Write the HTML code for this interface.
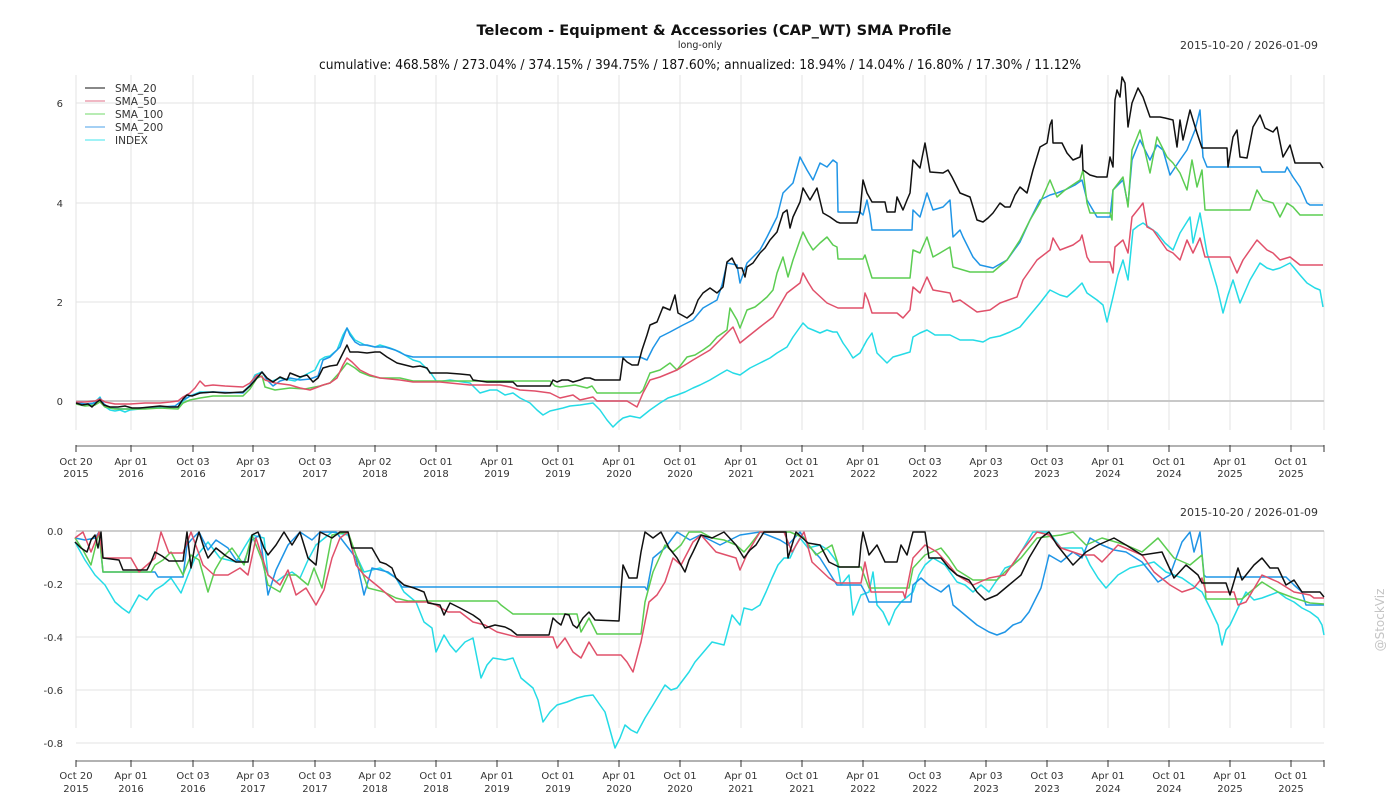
<!DOCTYPE html>
<html><head><meta charset="utf-8"><style>
html,body{margin:0;padding:0;background:#fff;}
svg{display:block;font-family:"DejaVu Sans","Liberation Sans",sans-serif;}
</style></head><body>
<svg width="1400" height="800" viewBox="0 0 1400 800" xmlns="http://www.w3.org/2000/svg">
<rect width="1400" height="800" fill="#fff"/>
<text x="714" y="35" text-anchor="middle" font-size="14" font-weight="bold" fill="#111" textLength="475" lengthAdjust="spacingAndGlyphs">Telecom - Equipment &amp; Accessories (CAP_WT) SMA Profile</text>
<text x="700" y="48" text-anchor="middle" font-size="9.5" fill="#222">long-only</text>
<text x="1318" y="49" text-anchor="end" font-size="10.5" fill="#333" textLength="138" lengthAdjust="spacingAndGlyphs">2015-10-20 / 2026-01-09</text>
<text x="700" y="69" text-anchor="middle" font-size="13" fill="#111" textLength="762" lengthAdjust="spacingAndGlyphs">cumulative: 468.58% / 273.04% / 374.15% / 394.75% / 187.60%; annualized: 18.94% / 14.04% / 16.80% / 17.30% / 11.12%</text>

<!-- TOP PANEL GRID -->
<g stroke="#e3e3e3" stroke-width="1">
<line x1="76" y1="75" x2="76" y2="430"/><line x1="131" y1="75" x2="131" y2="430"/><line x1="193" y1="75" x2="193" y2="430"/><line x1="253" y1="75" x2="253" y2="430"/><line x1="315" y1="75" x2="315" y2="430"/><line x1="375" y1="75" x2="375" y2="430"/><line x1="436" y1="75" x2="436" y2="430"/><line x1="497" y1="75" x2="497" y2="430"/><line x1="558" y1="75" x2="558" y2="430"/><line x1="619" y1="75" x2="619" y2="430"/><line x1="680" y1="75" x2="680" y2="430"/><line x1="741" y1="75" x2="741" y2="430"/><line x1="802" y1="75" x2="802" y2="430"/><line x1="863" y1="75" x2="863" y2="430"/><line x1="925" y1="75" x2="925" y2="430"/><line x1="986" y1="75" x2="986" y2="430"/><line x1="1047" y1="75" x2="1047" y2="430"/><line x1="1108" y1="75" x2="1108" y2="430"/><line x1="1169" y1="75" x2="1169" y2="430"/><line x1="1230" y1="75" x2="1230" y2="430"/><line x1="1291" y1="75" x2="1291" y2="430"/><line x1="1324" y1="75" x2="1324" y2="430"/>
<line x1="76" y1="103" x2="1324" y2="103"/><line x1="76" y1="203" x2="1324" y2="203"/><line x1="76" y1="302" x2="1324" y2="302"/>
</g>
<line x1="76" y1="401" x2="1324" y2="401" stroke="#c8c8c8" stroke-width="2"/>
<g font-size="10" fill="#333" text-anchor="end">
<text x="63" y="107">6</text><text x="63" y="207">4</text><text x="63" y="306">2</text><text x="63" y="405">0</text>
</g>
<line x1="76" y1="446" x2="1324" y2="446" stroke="#999" stroke-width="1.5"/>
<g stroke="#333" stroke-width="1">
<line x1="76" y1="445" x2="76" y2="452"/><line x1="131" y1="445" x2="131" y2="452"/><line x1="193" y1="445" x2="193" y2="452"/><line x1="253" y1="445" x2="253" y2="452"/><line x1="315" y1="445" x2="315" y2="452"/><line x1="375" y1="445" x2="375" y2="452"/><line x1="436" y1="445" x2="436" y2="452"/><line x1="497" y1="445" x2="497" y2="452"/><line x1="558" y1="445" x2="558" y2="452"/><line x1="619" y1="445" x2="619" y2="452"/><line x1="680" y1="445" x2="680" y2="452"/><line x1="741" y1="445" x2="741" y2="452"/><line x1="802" y1="445" x2="802" y2="452"/><line x1="863" y1="445" x2="863" y2="452"/><line x1="925" y1="445" x2="925" y2="452"/><line x1="986" y1="445" x2="986" y2="452"/><line x1="1047" y1="445" x2="1047" y2="452"/><line x1="1108" y1="445" x2="1108" y2="452"/><line x1="1169" y1="445" x2="1169" y2="452"/><line x1="1230" y1="445" x2="1230" y2="452"/><line x1="1291" y1="445" x2="1291" y2="452"/><line x1="1324" y1="445" x2="1324" y2="452"/>
</g>
<g font-size="10" fill="#333" text-anchor="middle">
<text x="76" y="465">Oct 20</text><text x="76" y="477">2015</text>
<text x="131" y="465">Apr 01</text><text x="131" y="477">2016</text>
<text x="193" y="465">Oct 03</text><text x="193" y="477">2016</text>
<text x="253" y="465">Apr 03</text><text x="253" y="477">2017</text>
<text x="315" y="465">Oct 03</text><text x="315" y="477">2017</text>
<text x="375" y="465">Apr 02</text><text x="375" y="477">2018</text>
<text x="436" y="465">Oct 01</text><text x="436" y="477">2018</text>
<text x="497" y="465">Apr 01</text><text x="497" y="477">2019</text>
<text x="558" y="465">Oct 01</text><text x="558" y="477">2019</text>
<text x="619" y="465">Apr 01</text><text x="619" y="477">2020</text>
<text x="680" y="465">Oct 01</text><text x="680" y="477">2020</text>
<text x="741" y="465">Apr 01</text><text x="741" y="477">2021</text>
<text x="802" y="465">Oct 01</text><text x="802" y="477">2021</text>
<text x="863" y="465">Apr 01</text><text x="863" y="477">2022</text>
<text x="925" y="465">Oct 03</text><text x="925" y="477">2022</text>
<text x="986" y="465">Apr 03</text><text x="986" y="477">2023</text>
<text x="1047" y="465">Oct 03</text><text x="1047" y="477">2023</text>
<text x="1108" y="465">Apr 01</text><text x="1108" y="477">2024</text>
<text x="1169" y="465">Oct 01</text><text x="1169" y="477">2024</text>
<text x="1230" y="465">Apr 01</text><text x="1230" y="477">2025</text>
<text x="1291" y="465">Oct 01</text><text x="1291" y="477">2025</text>
</g>

<!-- TOP SERIES -->
<g fill="none" stroke-width="1.5" stroke-linejoin="round">
<polyline stroke="#25dbe6" points="76,402 85,405 92,404 97,400 100,397 104,406 110,410 115,411 120,410 125,412 130,410 140,409 150,408 160,408 170,407 178,407 183,401 190,396 200,392 213,392 230,393 243,392 250,385 255,375 262,372 270,382 280,378 295,381 305,375 315,370 320,360 325,357 330,356 337,350 343,335 347,328 350,333 355,340 365,345 375,347 380,345 390,348 400,352 413,360 420,362 430,372 437,382 450,380 463,382 470,383 480,393 490,390 497,390 505,395 513,393 520,398 530,403 537,410 543,415 550,411 563,408 570,406 580,405 593,403 600,410 607,420 613,427 618,422 623,418 630,416 640,418 650,410 660,403 668,398 677,395 685,392 693,388 700,385 710,380 720,374 727,370 733,373 740,375 750,368 760,363 770,358 777,353 787,347 793,337 798,330 803,323 808,328 813,330 820,333 827,330 833,332 837,332 843,343 848,350 853,358 860,353 867,340 872,333 877,353 887,363 893,357 900,355 910,352 913,337 920,333 927,330 935,335 943,335 950,335 960,340 973,340 983,342 990,338 1000,336 1010,332 1020,327 1030,315 1040,303 1050,290 1060,295 1067,297 1075,290 1082,283 1087,293 1097,300 1103,305 1107,322 1113,297 1118,275 1123,260 1128,280 1133,230 1138,226 1143,223 1150,228 1157,233 1165,243 1173,250 1180,233 1190,217 1193,243 1200,213 1207,253 1212,270 1217,287 1223,313 1228,295 1233,280 1240,303 1250,280 1260,263 1267,268 1273,270 1280,268 1290,263 1300,275 1307,283 1315,288 1320,290 1323,307"/>
<polyline stroke="#1f95e6" points="76,402 85,404 95,403 100,398 104,404 110,408 120,409 130,409 140,408 160,407 175,406 183,400 190,396 200,393 213,392 243,393 250,386 257,377 262,372 267,380 273,386 280,381 290,378 300,380 310,379 318,376 323,360 330,357 340,347 345,333 347,328 350,335 355,342 360,345 367,345 375,347 385,347 395,350 405,355 413,357 640,357 647,360 653,348 660,337 670,332 683,325 693,320 703,308 710,304 717,300 722,285 727,263 737,265 740,283 747,263 755,255 760,250 767,237 777,217 783,193 793,183 800,157 807,170 813,180 820,163 827,167 833,160 837,163 838,212 860,212 863,215 867,200 870,215 872,230 912,230 913,210 920,217 927,193 933,210 943,207 950,200 953,237 960,230 963,237 973,257 980,265 993,268 1007,260 1020,242 1030,220 1040,200 1050,195 1057,193 1065,190 1075,185 1082,180 1087,200 1097,217 1110,217 1113,190 1123,180 1128,205 1132,160 1140,140 1150,160 1157,145 1163,150 1170,175 1180,160 1187,150 1195,130 1200,110 1203,157 1207,167 1260,167 1262,172 1285,172 1287,167 1293,177 1300,187 1307,203 1310,205 1323,205"/>
<polyline stroke="#5ccd52" points="76,404 85,406 95,405 100,402 105,407 115,409 130,409 145,409 160,408 178,409 183,403 190,400 200,398 213,396 243,396 250,389 257,378 262,376 265,387 275,390 290,388 305,389 320,386 330,383 340,372 347,363 355,368 360,372 370,376 380,378 400,378 413,381 550,381 555,386 560,387 575,385 587,388 592,386 597,393 640,393 643,390 650,373 660,370 670,363 677,370 687,357 695,355 703,350 710,345 717,337 727,330 730,308 737,320 740,328 747,310 755,307 760,303 767,297 773,290 777,273 783,257 788,277 793,260 800,240 803,232 808,242 813,250 820,243 827,237 833,245 837,247 838,259 863,259 865,255 868,265 872,278 910,278 913,250 920,253 927,237 933,257 940,253 950,247 953,267 970,272 993,272 1007,260 1020,240 1030,220 1040,203 1050,180 1057,197 1065,190 1080,180 1083,170 1087,203 1090,213 1110,213 1112,220 1113,190 1123,177 1128,207 1132,150 1140,130 1143,143 1150,173 1157,137 1167,157 1173,163 1180,173 1187,190 1192,160 1197,187 1202,170 1205,210 1250,210 1257,190 1263,200 1273,203 1280,217 1287,203 1293,207 1300,215 1323,215"/>
<polyline stroke="#e0506a" points="76,402 85,402 95,401 100,399 105,402 115,404 130,404 145,403 160,403 170,402 178,401 183,397 190,393 195,388 200,381 205,386 213,385 225,386 243,387 250,383 257,375 262,377 265,380 275,383 290,385 300,388 310,390 318,387 323,385 330,383 337,378 343,365 347,358 352,362 360,370 370,375 380,378 400,380 413,382 440,382 450,383 470,385 500,385 510,387 520,390 535,391 550,393 560,398 573,395 580,400 593,397 597,401 627,401 637,407 643,393 650,380 660,377 677,370 693,360 710,350 727,333 733,327 740,343 750,335 760,327 773,317 787,293 800,283 803,273 808,282 813,290 827,303 838,308 863,308 865,293 868,300 872,313 897,313 903,318 910,310 913,287 920,293 927,277 933,290 950,293 953,302 960,300 977,312 990,310 1000,303 1017,297 1023,280 1037,260 1050,250 1053,238 1060,250 1073,245 1080,240 1082,235 1087,257 1090,262 1110,262 1113,273 1115,247 1123,240 1128,253 1132,217 1140,207 1143,203 1147,227 1153,230 1167,250 1173,253 1180,260 1187,240 1193,253 1200,238 1205,257 1230,257 1237,273 1243,260 1257,240 1267,250 1273,253 1280,260 1290,257 1300,265 1323,265"/>
<polyline stroke="#111" points="76,403 82,405 88,404 92,407 97,402 100,400 104,405 110,407 118,407 125,406 132,408 140,408 150,407 160,406 170,407 178,407 183,399 187,395 192,396 200,393 213,392 225,393 243,392 250,386 257,378 262,372 267,378 273,382 280,377 287,380 290,373 300,377 307,375 313,382 318,378 323,368 330,366 337,365 343,353 347,345 350,352 358,352 367,353 375,352 380,352 387,357 397,363 405,365 413,367 420,366 427,368 430,373 447,373 460,374 470,375 473,380 487,382 500,382 513,382 517,386 550,386 553,380 557,382 562,380 568,380 573,382 580,380 585,378 590,378 595,380 620,380 623,358 627,362 632,365 638,365 642,350 647,335 650,325 657,322 663,307 670,310 675,295 678,313 687,318 693,313 698,300 703,293 710,288 717,293 723,287 727,262 732,258 737,268 742,268 745,277 747,267 753,263 760,253 765,248 770,240 777,232 783,213 787,210 790,228 793,217 800,202 803,188 810,200 817,188 823,213 830,217 837,222 840,223 857,223 860,212 863,180 867,193 872,202 885,202 887,212 895,212 897,197 903,210 907,200 910,193 913,160 920,168 925,143 930,172 943,173 948,170 952,177 960,193 970,197 977,220 983,222 988,218 993,213 1000,203 1005,207 1010,207 1015,195 1020,187 1027,193 1033,170 1040,147 1047,143 1050,125 1052,120 1053,143 1062,143 1067,153 1073,160 1080,157 1082,145 1083,170 1090,175 1097,177 1107,177 1110,157 1113,167 1115,100 1117,90 1120,97 1122,77 1125,83 1128,127 1132,103 1138,88 1143,97 1150,117 1160,117 1165,118 1173,120 1177,147 1180,120 1183,140 1190,110 1197,133 1202,148 1227,148 1228,167 1233,137 1237,130 1240,157 1247,158 1253,127 1260,115 1265,128 1273,132 1277,127 1283,157 1290,145 1295,163 1320,163 1323,168"/>
</g>

<!-- LEGEND -->
<g stroke-width="1">
<line x1="85" y1="88" x2="105" y2="88" stroke="#111"/>
<line x1="85" y1="101" x2="105" y2="101" stroke="#e07088"/>
<line x1="85" y1="114" x2="105" y2="114" stroke="#70d868"/>
<line x1="85" y1="127" x2="105" y2="127" stroke="#4aa0e8"/>
<line x1="85" y1="140" x2="105" y2="140" stroke="#40e4ec"/>
</g>
<g font-size="10.5" fill="#333">
<text x="115" y="92">SMA_20</text>
<text x="115" y="105">SMA_50</text>
<text x="115" y="118">SMA_100</text>
<text x="115" y="131">SMA_200</text>
<text x="115" y="144">INDEX</text>
</g>

<!-- BOTTOM PANEL -->
<text x="1318" y="516" text-anchor="end" font-size="10.5" fill="#333" textLength="138" lengthAdjust="spacingAndGlyphs">2015-10-20 / 2026-01-09</text>
<g stroke="#e3e3e3" stroke-width="1">
<line x1="76" y1="531" x2="76" y2="728"/><line x1="131" y1="531" x2="131" y2="728"/><line x1="193" y1="531" x2="193" y2="728"/><line x1="253" y1="531" x2="253" y2="728"/><line x1="315" y1="531" x2="315" y2="728"/><line x1="375" y1="531" x2="375" y2="728"/><line x1="436" y1="531" x2="436" y2="728"/><line x1="497" y1="531" x2="497" y2="728"/><line x1="558" y1="531" x2="558" y2="728"/><line x1="619" y1="531" x2="619" y2="728"/><line x1="680" y1="531" x2="680" y2="728"/><line x1="741" y1="531" x2="741" y2="728"/><line x1="802" y1="531" x2="802" y2="728"/><line x1="863" y1="531" x2="863" y2="728"/><line x1="925" y1="531" x2="925" y2="728"/><line x1="986" y1="531" x2="986" y2="728"/><line x1="1047" y1="531" x2="1047" y2="728"/><line x1="1108" y1="531" x2="1108" y2="728"/><line x1="1169" y1="531" x2="1169" y2="728"/><line x1="1230" y1="531" x2="1230" y2="728"/><line x1="1291" y1="531" x2="1291" y2="728"/><line x1="1324" y1="531" x2="1324" y2="728"/>
<line x1="76" y1="584" x2="1324" y2="584"/><line x1="76" y1="637" x2="1324" y2="637"/><line x1="76" y1="690" x2="1324" y2="690"/><line x1="76" y1="743" x2="1324" y2="743"/>
</g>
<line x1="76" y1="531" x2="1324" y2="531" stroke="#bdbdbd" stroke-width="1.5"/>
<g font-size="10" fill="#333" text-anchor="end">
<text x="63" y="535">0.0</text><text x="63" y="588">-0.2</text><text x="63" y="641">-0.4</text><text x="63" y="694">-0.6</text><text x="63" y="747">-0.8</text>
</g>
<line x1="76" y1="761" x2="1324" y2="761" stroke="#999" stroke-width="1.5"/>
<g stroke="#333" stroke-width="1">
<line x1="76" y1="760" x2="76" y2="767"/><line x1="131" y1="760" x2="131" y2="767"/><line x1="193" y1="760" x2="193" y2="767"/><line x1="253" y1="760" x2="253" y2="767"/><line x1="315" y1="760" x2="315" y2="767"/><line x1="375" y1="760" x2="375" y2="767"/><line x1="436" y1="760" x2="436" y2="767"/><line x1="497" y1="760" x2="497" y2="767"/><line x1="558" y1="760" x2="558" y2="767"/><line x1="619" y1="760" x2="619" y2="767"/><line x1="680" y1="760" x2="680" y2="767"/><line x1="741" y1="760" x2="741" y2="767"/><line x1="802" y1="760" x2="802" y2="767"/><line x1="863" y1="760" x2="863" y2="767"/><line x1="925" y1="760" x2="925" y2="767"/><line x1="986" y1="760" x2="986" y2="767"/><line x1="1047" y1="760" x2="1047" y2="767"/><line x1="1108" y1="760" x2="1108" y2="767"/><line x1="1169" y1="760" x2="1169" y2="767"/><line x1="1230" y1="760" x2="1230" y2="767"/><line x1="1291" y1="760" x2="1291" y2="767"/><line x1="1324" y1="760" x2="1324" y2="767"/>
</g>
<g font-size="10" fill="#333" text-anchor="middle">
<text x="76" y="779">Oct 20</text><text x="76" y="792">2015</text>
<text x="131" y="779">Apr 01</text><text x="131" y="792">2016</text>
<text x="193" y="779">Oct 03</text><text x="193" y="792">2016</text>
<text x="253" y="779">Apr 03</text><text x="253" y="792">2017</text>
<text x="315" y="779">Oct 03</text><text x="315" y="792">2017</text>
<text x="375" y="779">Apr 02</text><text x="375" y="792">2018</text>
<text x="436" y="779">Oct 01</text><text x="436" y="792">2018</text>
<text x="497" y="779">Apr 01</text><text x="497" y="792">2019</text>
<text x="558" y="779">Oct 01</text><text x="558" y="792">2019</text>
<text x="619" y="779">Apr 01</text><text x="619" y="792">2020</text>
<text x="680" y="779">Oct 01</text><text x="680" y="792">2020</text>
<text x="741" y="779">Apr 01</text><text x="741" y="792">2021</text>
<text x="802" y="779">Oct 01</text><text x="802" y="792">2021</text>
<text x="863" y="779">Apr 01</text><text x="863" y="792">2022</text>
<text x="925" y="779">Oct 03</text><text x="925" y="792">2022</text>
<text x="986" y="779">Apr 03</text><text x="986" y="792">2023</text>
<text x="1047" y="779">Oct 03</text><text x="1047" y="792">2023</text>
<text x="1108" y="779">Apr 01</text><text x="1108" y="792">2024</text>
<text x="1169" y="779">Oct 01</text><text x="1169" y="792">2024</text>
<text x="1230" y="779">Apr 01</text><text x="1230" y="792">2025</text>
<text x="1291" y="779">Oct 01</text><text x="1291" y="792">2025</text>
</g>

<g fill="none" stroke-width="1.5" stroke-linejoin="round">
<polyline stroke="#25dbe6" points="75,542 85,560 95,575 105,585 115,602 122,608 129,613 139,595 147,600 155,590 163,585 171,578 181,593 188,575 195,558 208,542 214,550 220,558 228,560 236,562 244,548 252,535 264,538 268,575 276,582 284,576 292,572 300,578 308,560 316,545 332,532 348,535 356,555 364,572 380,568 396,578 404,592 416,602 424,622 432,628 436,652 444,635 450,645 456,652 465,642 473,638 481,678 487,665 493,658 505,660 513,658 521,678 533,688 538,700 543,722 550,712 557,705 567,702 577,698 585,696 593,695 600,705 605,712 610,730 615,748 620,738 625,725 631,730 637,733 645,718 653,705 659,695 665,685 671,690 677,688 683,680 689,672 695,662 701,655 712,642 724,645 732,615 740,625 744,608 752,610 760,605 766,592 772,578 778,565 784,558 790,558 796,545 800,538 808,548 820,545 828,550 837,562 841,585 849,575 853,615 861,595 869,592 873,572 877,605 883,612 889,625 895,610 901,602 913,592 919,575 925,565 933,558 945,565 957,582 965,585 973,592 981,585 989,592 997,580 1005,568 1013,565 1021,552 1033,532 1049,532 1061,548 1082,548 1090,565 1098,578 1106,588 1118,575 1130,568 1142,565 1154,562 1166,572 1182,578 1192,585 1202,592 1210,608 1218,625 1222,645 1226,630 1230,625 1238,608 1246,592 1254,600 1262,598 1270,595 1278,592 1286,598 1294,602 1302,608 1310,612 1318,618 1322,625 1324,635"/>
<polyline stroke="#1f95e6" points="75,538 85,540 95,538 99,532 103,572 155,572 158,577 183,577 187,545 191,540 199,532 208,550 216,540 228,548 236,560 244,562 252,540 260,535 268,595 276,570 288,545 300,532 312,540 320,532 336,532 346,545 356,558 364,595 372,568 388,572 396,578 402,587 645,587 647,590 653,558 665,548 677,532 690,540 700,535 720,545 740,535 760,532 780,540 788,545 800,532 808,545 820,558 837,585 861,585 865,592 869,602 911,602 913,585 921,578 929,585 941,592 949,585 953,605 965,615 977,625 989,632 997,635 1005,632 1013,625 1021,622 1029,612 1041,588 1049,555 1061,562 1073,552 1082,558 1090,538 1102,545 1114,550 1126,552 1142,562 1158,582 1170,575 1182,542 1190,532 1194,552 1200,532 1204,575 1206,577 1286,577 1294,585 1302,592 1306,605 1324,605"/>
<polyline stroke="#5ccd52" points="75,538 83,550 91,565 99,532 103,572 151,572 155,565 163,560 171,552 183,575 191,555 199,560 208,592 215,570 222,558 232,548 244,565 252,535 262,560 268,585 280,592 288,575 296,575 308,585 314,568 322,588 332,535 348,532 356,555 368,588 384,592 396,598 408,601 497,601 501,605 513,614 577,614 581,632 589,618 597,634 641,634 645,602 653,572 665,545 673,552 681,545 689,532 701,532 712,538 724,540 736,545 744,552 750,545 760,532 790,532 804,538 816,555 832,545 839,567 861,567 869,588 909,588 913,568 925,555 941,548 949,558 957,570 973,580 997,580 1005,572 1021,558 1037,538 1061,535 1073,532 1086,545 1102,538 1126,545 1142,552 1158,538 1174,558 1190,565 1202,555 1206,599 1242,599 1250,592 1262,582 1278,592 1294,598 1310,603 1324,604"/>
<polyline stroke="#e0506a" points="75,538 83,532 91,552 99,532 103,558 131,558 139,572 147,565 155,558 161,532 169,553 183,553 191,532 203,565 214,575 228,575 240,568 248,575 256,538 268,575 280,585 288,570 296,595 306,588 316,605 324,590 332,558 340,538 348,532 356,565 364,575 380,588 396,602 428,602 436,605 448,612 460,612 473,622 485,625 497,632 517,637 553,637 557,648 565,638 573,652 581,658 589,642 597,655 621,655 627,662 633,672 641,642 649,602 657,595 665,582 673,558 681,565 693,542 701,535 716,552 736,558 740,570 748,552 760,532 784,532 792,552 804,532 812,562 829,578 837,583 861,583 865,562 871,592 903,592 905,598 913,558 925,545 937,552 949,565 957,575 973,585 989,578 1005,575 1021,552 1037,532 1049,535 1061,548 1082,555 1094,555 1102,562 1118,545 1142,555 1154,572 1170,585 1182,592 1194,588 1202,578 1206,592 1234,592 1238,605 1246,602 1262,575 1278,582 1294,592 1310,595 1314,598 1324,598"/>
<polyline stroke="#111" points="75,542 81,548 87,552 91,540 95,535 98,548 101,532 103,558 119,560 123,570 147,570 151,562 155,552 162,556 169,561 183,561 187,532 191,568 195,545 199,532 204,548 208,558 216,548 226,556 236,562 248,562 252,535 258,532 264,548 268,555 276,545 284,532 292,545 300,532 308,558 316,565 320,532 332,538 340,532 348,532 352,548 372,548 380,562 386,564 392,568 396,578 404,585 414,588 424,592 428,603 440,605 444,615 450,603 460,608 473,615 480,620 485,628 495,625 505,627 511,630 517,635 549,635 553,618 557,622 561,625 565,614 569,615 573,625 577,628 583,618 589,612 595,620 619,621 621,590 623,565 629,578 637,578 641,552 645,532 653,538 661,532 669,548 677,558 685,572 689,560 693,552 701,535 712,538 724,532 736,545 744,558 750,550 756,545 764,532 786,532 788,558 796,532 808,543 820,545 829,562 839,567 859,567 861,545 863,532 869,555 877,545 885,562 897,562 901,545 907,555 913,532 925,532 929,558 941,558 949,568 957,575 969,580 977,592 985,600 997,595 1009,585 1021,575 1029,558 1041,538 1049,532 1057,545 1065,555 1073,565 1086,552 1098,545 1114,538 1126,545 1142,555 1162,552 1174,578 1186,565 1198,575 1202,583 1226,583 1230,595 1238,568 1242,580 1254,565 1262,558 1270,568 1278,568 1286,585 1294,580 1302,592 1320,592 1324,597"/>
</g>

<text x="1384" y="620" transform="rotate(-90 1384 620)" text-anchor="middle" font-size="12" fill="#c4c4c4">@StockViz</text>
</svg>
</body></html>
